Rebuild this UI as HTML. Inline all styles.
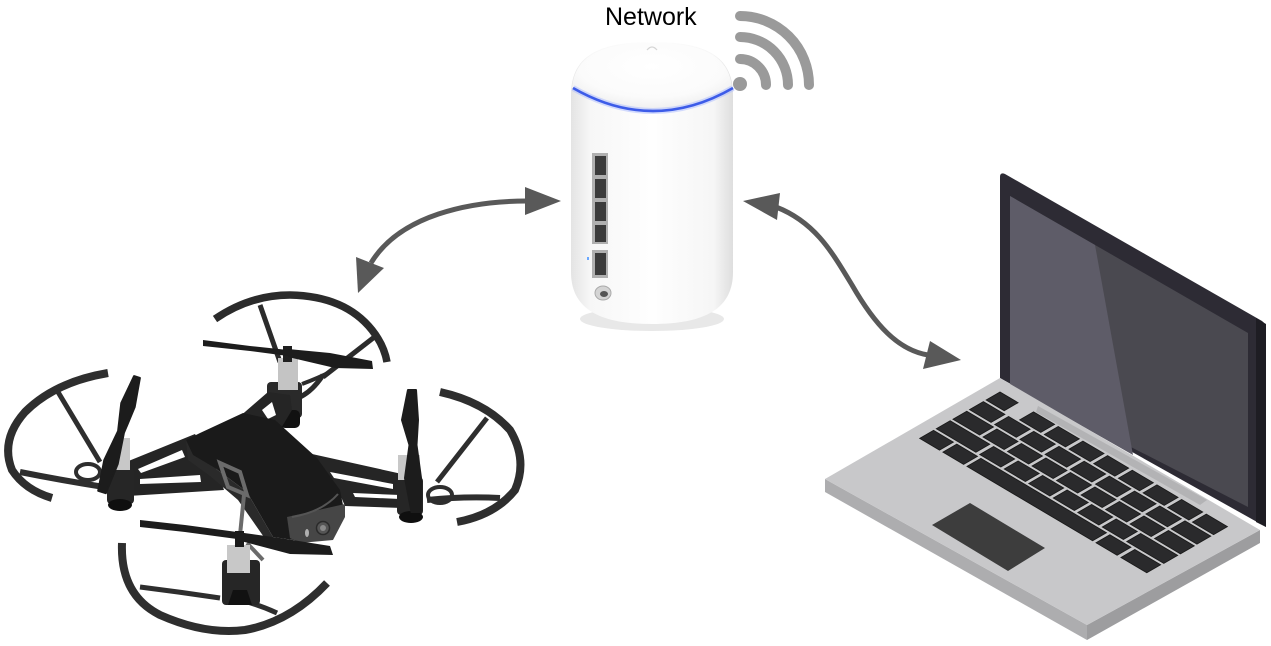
<!DOCTYPE html>
<html><head><meta charset="utf-8"><style>
html,body{margin:0;padding:0;background:#fff;}
svg{display:block;}
</style></head><body>
<svg width="1271" height="646" viewBox="0 0 1271 646" xmlns="http://www.w3.org/2000/svg">
<defs>
<linearGradient id="rg" x1="0" y1="0" x2="1" y2="0">
<stop offset="0" stop-color="#e4e4e4"/><stop offset="0.12" stop-color="#f7f7f7"/><stop offset="0.5" stop-color="#fefefe"/><stop offset="0.88" stop-color="#f6f6f6"/><stop offset="1" stop-color="#dedede"/>
</linearGradient>
<radialGradient id="dg" cx="0.5" cy="0.35" r="0.65"><stop offset="0" stop-color="#ffffff"/><stop offset="0.7" stop-color="#fbfbfb"/><stop offset="1" stop-color="#eeeeee"/></radialGradient>
</defs>
<rect width="1271" height="646" fill="#fff"/>

<!-- Network label -->
<text x="605" y="25" font-family="Liberation Sans, Arial, sans-serif" font-size="25" fill="#000">Network</text>

<!-- Router -->
<ellipse cx="652" cy="319" rx="72" ry="12" fill="#e8e8e8"/>
<path d="M571,95 C571,55 600,42 652,42 C704,42 733,55 733,95 L733,272 C733,308 706,324 652,324 C598,324 571,308 571,272 Z" fill="url(#rg)"/>
<path d="M572,88 C575,55 602,43 652,43 C702,43 729,55 732,88 Q652,133 572,88 Z" fill="url(#dg)"/>
<path d="M573,88 Q653,134 733,88" fill="none" stroke="#a9b9ff" stroke-width="6" opacity="0.5"/>
<path d="M573,88 Q653,134 733,88" fill="none" stroke="#3d5ce8" stroke-width="2.6"/>
<path d="M647,50 Q652,44 657,50" fill="none" stroke="#d5d5d5" stroke-width="1.2"/>
<rect x="592" y="153" width="16" height="91" fill="#b0b0b0"/>
<rect x="595" y="156" width="11" height="19" fill="#3b3b3b"/>
<rect x="595" y="179" width="11" height="19" fill="#3b3b3b"/>
<rect x="595" y="202" width="11" height="19" fill="#3b3b3b"/>
<rect x="595" y="225" width="11" height="17" fill="#3b3b3b"/>
<rect x="592" y="250" width="16" height="28" fill="#b0b0b0"/>
<rect x="595" y="253" width="11" height="22" fill="#3b3b3b"/>
<rect x="587" y="257" width="2" height="3" fill="#6aa8ff"/>
<ellipse cx="603" cy="293" rx="8" ry="7" fill="#d4d4d4" stroke="#aaa" stroke-width="1"/>
<ellipse cx="604" cy="294" rx="4" ry="3" fill="#555"/>

<!-- Wifi icon -->
<g fill="none" stroke="#9a9a9a" stroke-width="10" stroke-linecap="round">
<path d="M740,59 A26,26 0 0 1 766,85"/>
<path d="M740,37 A48,48 0 0 1 788,85"/>
<path d="M740,16 A69,69 0 0 1 809,85"/>
</g>
<circle cx="740" cy="84" r="7" fill="#9a9a9a"/>

<!-- Arrows -->
<g fill="none" stroke="#595959" stroke-width="5">
<path d="M527,201 C470,201 400,215 371,263"/>
<path d="M776,207 C815,222 832,252 852,285 C875,325 898,350 928,355"/>
</g>
<g fill="#595959">
<polygon points="561,201 525,187 525,215"/>
<polygon points="358,293 356,257 384,268"/>
<polygon points="743,201 780,193 777,220"/>
<polygon points="961,360 930,341 923,369"/>
</g>

<!-- Laptop -->
<path d="M1000,177 Q1000,172 1005,174 L1262,321 Q1266,324 1266,328 L1266,527 L1000,378 Z" fill="#2d2b34"/>
<polygon points="1256,318 1266,324 1266,527 1256,522" fill="#1e1d23"/>
<polygon points="1010,196 1248,333 1248,507 1010,385" fill="#4a4950"/>
<polygon points="1010,196 1095,245 1133,455 1010,385" fill="#5e5c68"/>
<polygon points="825,492 1087,640 1087,625 825,479" fill="#adadaf"/>
<polygon points="1087,625 1260,530 1260,543 1087,640" fill="#9d9d9f"/>
<polygon points="1000,378 1260,530 1087,625 825,479" fill="#c8c8ca"/>
<polygon points="1038,406 1207,500 1200,505 1036,412" fill="#b3b3b5"/>
<polygon points="932,525 970,503 1045,548 1008,571" fill="#3d3d3d"/>
<g transform="matrix(0.860,0.509,-0.865,0.5,1000,392)" fill="#2a2a2c" stroke="#1a1a1a" stroke-width="1">
<!-- row 0 -->
<rect x="0" y="0" width="21" height="16"/>
<rect x="39" y="0" width="24.5" height="16"/><rect x="67.7" y="0" width="24.5" height="16"/><rect x="96.4" y="0" width="24.5" height="16"/><rect x="125.1" y="0" width="24.5" height="16"/><rect x="153.8" y="0" width="24.5" height="16"/><rect x="182.5" y="0" width="24.5" height="16"/><rect x="211.2" y="0" width="24.5" height="16"/><rect x="239.9" y="0" width="24.5" height="16"/>
<!-- row 1 -->
<rect x="0" y="19.2" width="25" height="16"/><rect x="29.3" y="19.2" width="25" height="16"/><rect x="58.6" y="19.2" width="25" height="16"/><rect x="87.9" y="19.2" width="25" height="16"/><rect x="117.2" y="19.2" width="25" height="16"/><rect x="146.5" y="19.2" width="25" height="16"/><rect x="175.8" y="19.2" width="25" height="16"/><rect x="205.1" y="19.2" width="25" height="16"/><rect x="234.4" y="19.2" width="30" height="16"/>
<!-- row 2 -->
<rect x="0" y="38.4" width="31" height="16"/><rect x="35" y="38.4" width="24.5" height="16"/><rect x="63.5" y="38.4" width="24.5" height="16"/><rect x="92" y="38.4" width="24.5" height="16"/><rect x="120.5" y="38.4" width="24.5" height="16"/><rect x="149" y="38.4" width="24.5" height="16"/><rect x="177.5" y="38.4" width="24.5" height="16"/><rect x="206" y="38.4" width="24.5" height="16"/><rect x="234.5" y="38.4" width="30" height="16"/>
<!-- row 3 -->
<rect x="0" y="57.6" width="46" height="16"/><rect x="50.5" y="57.6" width="24.5" height="16"/><rect x="79" y="57.6" width="24.5" height="16"/><rect x="107.5" y="57.6" width="24.5" height="16"/><rect x="136" y="57.6" width="24.5" height="16"/><rect x="164.5" y="57.6" width="24.5" height="16"/><rect x="193" y="57.6" width="24.5" height="16"/><rect x="221.5" y="57.6" width="43" height="16"/>
<!-- row 4 -->
<rect x="0" y="76.8" width="23" height="16"/><rect x="27" y="76.8" width="24" height="16"/><rect x="55" y="76.8" width="146" height="16"/><rect x="205" y="76.8" width="24.5" height="16"/><rect x="234" y="76.8" width="30" height="16"/>
</g>

<!-- Drone -->
<!-- back rotor -->
<g fill="none" stroke="#2b2b2b" stroke-linecap="butt">
<path d="M215,319 Q250,295 290,295 Q345,296 372,330 Q384,345 387,362" stroke-width="7.5"/>
<path d="M260,305 L280,362" stroke-width="5"/>
<path d="M377,335 L323,377" stroke-width="5"/>
<path d="M323,375 Q312,392 298,398" stroke-width="5"/>
<path d="M330,372 Q318,378 302,384" stroke-width="4"/>
</g>
<rect x="267" y="382" width="35" height="36" rx="4" fill="#2a2a2a"/>
<rect x="280" y="410" width="20" height="18" rx="5" fill="#111"/>
<rect x="278" y="358" width="20" height="32" fill="#c4c4c4"/>
<rect x="283" y="346" width="9" height="16" fill="#1f1f1f"/>
<polygon points="203,340 250,346 288,350 288,356 250,351 203,346" fill="#1c1c1c"/>
<polygon points="288,349 330,353 372,361 373,369 335,368 288,357" fill="#1c1c1c"/>

<!-- left rotor -->
<g fill="none" stroke="#2e2e2e">
<path d="M108,373 Q55,382 25,412 Q0,440 12,470 Q25,490 52,498" stroke-width="8"/>
<path d="M20,472 Q60,480 104,487" stroke-width="6"/>
<path d="M58,392 L100,462" stroke-width="5"/>
<ellipse cx="88" cy="472" rx="12" ry="8" stroke-width="4"/>
</g>

<!-- right rotor guard -->
<g fill="none" stroke="#2e2e2e">
<path d="M440,392 Q485,402 510,430 Q528,460 515,490 Q495,515 457,522" stroke-width="8"/>
<path d="M427,500 Q465,496 500,498" stroke-width="6"/>
<path d="M487,418 L437,482" stroke-width="5"/>
<ellipse cx="440" cy="495" rx="12" ry="8" stroke-width="4"/>
</g>

<!-- arm bands -->
<polygon points="126,462 195,434 215,466 224,490 128,496" fill="#252525"/>
<polygon points="138,469 182,450 185,457 141,473" fill="#fff"/>
<polygon points="140,479 200,475 201,482 140,484" fill="#fff"/>
<polygon points="303,452 402,474 402,508 345,506 338,490" fill="#252525"/>
<polygon points="330,472 393,484 393,489 334,478" fill="#fff"/>
<polygon points="353,493 400,495 400,499 355,497" fill="#fff"/>
<polygon points="238,418 268,392 290,395 292,410 280,430 262,425" fill="#252525"/>
<polygon points="262,410 272,402 276,415 268,419" fill="#fff"/>

<!-- left motor -->
<rect x="107" y="468" width="27" height="36" rx="4" fill="#262626"/>
<ellipse cx="120" cy="505" rx="12" ry="6" fill="#0f0f0f"/>
<rect x="115" y="438" width="15" height="32" fill="#c8c8c8"/>
<path d="M134.1,376.1 L139.9,377.9 L134.7,407 L123.9,432.9 L117.7,464 L105.8,493.2 L98.2,490.8 L104.3,460 L118.1,431.1 L121.3,403 Z" fill="#1c1c1c" stroke="#1c1c1c" stroke-width="2" stroke-linejoin="round"/>

<!-- right motor -->
<rect x="397" y="477" width="26" height="38" rx="4" fill="#262626"/>
<ellipse cx="411" cy="517" rx="12" ry="6" fill="#0f0f0f"/>
<rect x="398" y="455" width="22" height="25" fill="#c8c8c8"/>
<path d="M408,390 L416,390 L418,420 L416.5,445 L421,478 L420.5,512 L411.5,512 L405,478 L409.5,445 L402,420 Z" fill="#1c1c1c" stroke="#1c1c1c" stroke-width="2" stroke-linejoin="round"/>

<!-- body -->
<polygon points="186,440 200,433 243,413 275,420 317,458 340,490 345,515 333,538 300,541 273,537 247,492 215,468 193,455" fill="#1a1a1a"/>
<polygon points="186,440 193,455 215,468 247,492 273,537 266,540 238,500 210,476 188,460" fill="#2a2a2a"/>
<polygon points="287,517 345,504 345,517 333,540 300,543 290,538" fill="#464646"/>
<path d="M292,517 Q322,512 338,494" fill="none" stroke="#555" stroke-width="2"/>
<circle cx="323" cy="528" r="6.5" fill="#555" stroke="#2a2a2a" stroke-width="1.5"/>
<circle cx="323" cy="528" r="3" fill="#8a8a8a"/>
<ellipse cx="307" cy="533" rx="2" ry="4" fill="#b0b0b0"/>
<g fill="none" stroke="#6b6b6b" stroke-width="4">
<polygon points="220,463 240,472 247,495 228,487"/>
<path d="M244,495 L240,535"/>
<path d="M247,543 L263,560"/>
</g>

<!-- front rotor -->
<g fill="none" stroke="#2e2e2e">
<path d="M122,543 Q120,595 160,615 Q205,635 245,630 Q290,622 327,583" stroke-width="8"/>
<path d="M140,587 Q180,592 220,598" stroke-width="5"/>
<path d="M240,600 Q260,605 277,613" stroke-width="5"/>
</g>
<rect x="222" y="560" width="38" height="45" rx="4" fill="#262626"/>
<polygon points="233,590 247,590 252,605 228,605" fill="#111"/>
<rect x="227" y="545" width="23" height="28" fill="#c8c8c8"/>
<rect x="235" y="531" width="9" height="16" fill="#1a1a1a"/>
<polygon points="140,520 185,525 237,532 237,539 185,532 140,527" fill="#1c1c1c"/>
<polygon points="237,532 280,538 330,546 333,555 290,554 237,540" fill="#1c1c1c"/>
</svg>
</body></html>
